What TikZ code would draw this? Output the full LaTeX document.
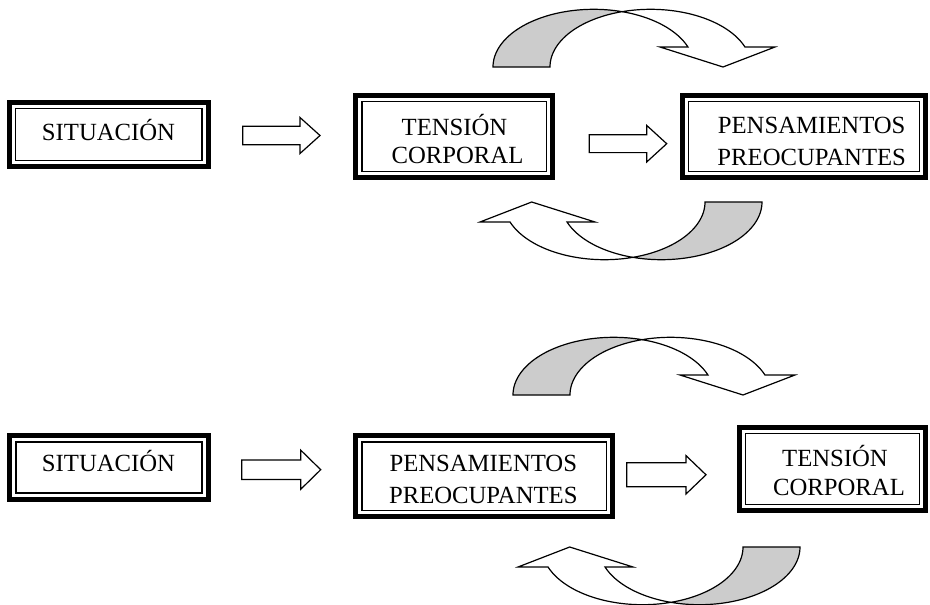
\documentclass[tikz,border=0pt]{standalone}
\usepackage{fontspec}
\setmainfont{Liberation Serif}
\newcommand\dblbox[5]{%
  \node[boxout, minimum width=#4, minimum height=#5] (#1) at (#2,#3) {};
  \draw[boxin] ([shift={(6.2,6.2)}]#1.north west) rectangle ([shift={(-6.2,-6.2)}]#1.south east);
}
\begin{document}
\begin{tikzpicture}[x=1pt,y=-1pt,
  boxout/.style={draw, line width=5pt, inner sep=0pt, outer sep=0pt},
  boxin/.style={draw, line width=1.3pt},
  lbl/.style={font=\fontsize{24.7}{30}\selectfont, inner sep=0pt, anchor=base},
  barrow/.style={draw, fill=white, line width=1.2pt},
  band/.style={draw, line width=1.2pt},
  bandgray/.style={band, fill=black!20},
  bandwhite/.style={band, fill=white},
  pics/blkarr/.style n args={4}{code={
    \draw[barrow] (0,-#2) -- (#1-20,-#2) -- (#1-20,-#3) -- (#1,#4) -- (#1-20,#3) -- (#1-20,#2) -- (0,#2) -- cycle;
  }},
  pics/curvetop/.style={code={
    \filldraw[bandgray] plot[domain=180:73.54,samples=60] ({100.6*cos(\x)},{-57.7*sin(\x)})
      -- plot[domain=106.46:180,samples=60] ({57+100.6*cos(\x)},{-57.7*sin(\x)}) -- cycle;
    \filldraw[bandwhite] plot[domain=73.54:20.28,samples=50] ({100.6*cos(\x)},{-57.7*sin(\x)})
      -- (66.4,-20) -- (129.4,0) -- (181.4,-20)
      -- plot[domain=20.28:106.46,samples=60] ({57+100.6*cos(\x)},{-57.7*sin(\x)}) -- cycle;
  }},
  pics/curvebot/.style={code={
    \filldraw[bandgray] plot[domain=360:253.54,samples=60] ({57+100.6*cos(\x)},{-57.7*sin(\x)})
      -- plot[domain=286.46:360,samples=60] ({100.6*cos(\x)},{-57.7*sin(\x)}) -- cycle;
    \filldraw[bandwhite] plot[domain=286.46:200.28,samples=50] ({100.6*cos(\x)},{-57.7*sin(\x)})
      -- (-124.4,20) -- (-72.7,0) -- (-9.4,20)
      -- plot[domain=200.28:253.54,samples=60] ({57+100.6*cos(\x)},{-57.7*sin(\x)}) -- cycle;
  }}
]
\useasboundingbox[fill=white] (0,0) rectangle (930,605);

% ---------- top row ----------
\dblbox{sit1}{108.7}{134.5}{199pt}{64pt}
\dblbox{ten1}{454.15}{136.35}{196.7pt}{82.3pt}
\dblbox{pen1}{804}{136.35}{243pt}{82.3pt}

\node[lbl] (sit1a) at (108.5,140.7) {SITUACIÓN};
\node[lbl] (ten1a) at (454.5,135) {TENSIÓN};
\node[lbl] (ten1b) at (457.5,163.3) {CORPORAL};
\node[lbl] (pen1a) at (811.7,133.3) {PENSAMIENTOS};
\node[lbl] (pen1b) at (811.7,165) {PREOCUPANTES};

\pic (a1) at (242.7,135.5) {blkarr={77.3}{9.2}{18}{0}};
\pic (a2) at (589.3,143.7) {blkarr={77.4}{8.9}{18.3}{0}};

\pic (c1) at (593.6,67) {curvetop};
\pic (c2) at (604.4,202) {curvebot};

% ---------- bottom row ----------
\dblbox{sit2}{109}{467.5}{198.4pt}{63.4pt}
\dblbox{pen2}{484.15}{476.3}{256.7pt}{81pt}
\dblbox{ten2}{832.35}{469.15}{186.3pt}{83.3pt}

\node[lbl] (sit2a) at (108.5,471.7) {SITUACIÓN};
\node[lbl] (pen2a) at (483.3,471.7) {PENSAMIENTOS};
\node[lbl] (pen2b) at (483.3,503.3) {PREOCUPANTES};
\node[lbl] (ten2a) at (835,466.7) {TENSIÓN};
\node[lbl] (ten2b) at (839,495) {CORPORAL};

\pic (b1) at (241.7,469.7) {blkarr={79}{9.7}{19.6}{0}};
\pic (b2) at (626.7,474.8) {blkarr={79.3}{12}{19.2}{0}};

\pic (c3) at (613.6,395) {curvetop};
\pic (c4) at (642.4,547) {curvebot};
\end{tikzpicture}
\end{document}
